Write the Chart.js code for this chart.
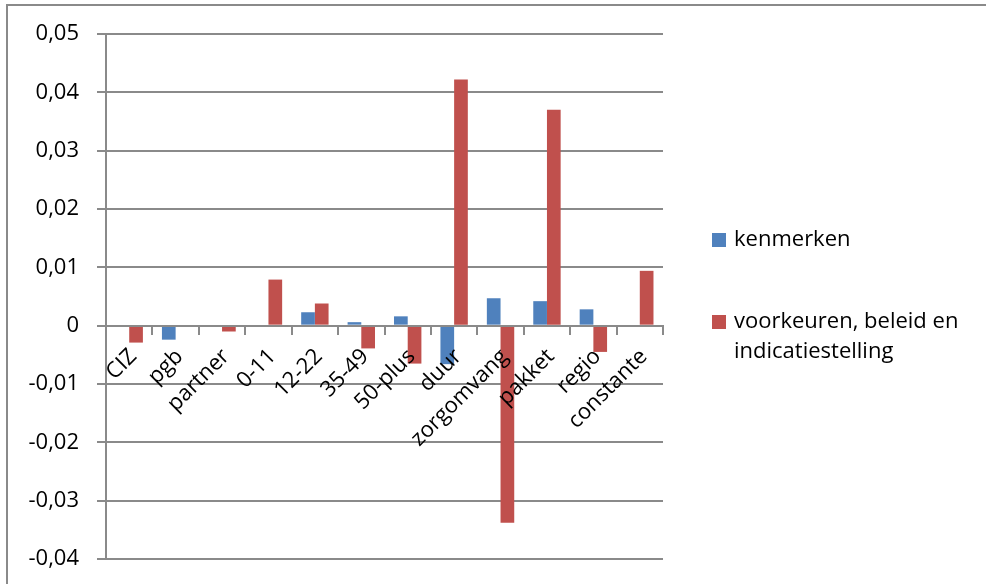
<!DOCTYPE html>
<html>
<head>
<meta charset="utf-8">
<script src="https://cdn.jsdelivr.net/npm/chart.js@4/dist/chart.umd.min.js"></script>
<style>
  html, body { margin: 0; padding: 0; background: #fff; }
  #wrap { position: relative; width: 986px; height: 584px; }
</style>
</head>
<body>
<div id="wrap"><canvas id="c" width="986" height="584"></canvas></div>
<script>
// Categories along the x axis
const categories = ['CIZ', 'pgb', 'partner', '0-11', '12-22', '35-49', '50-plus',
  'duur', 'zorgomvang', 'pakket', 'regio', 'constante'];

// Series names
const seriesNames = ['kenmerken', 'voorkeuren, beleid en indicatiestelling'];

// Series values
const kenmerken = [0, -0.0024, 0, 0, 0.0023, 0.0006, 0.0016,
  -0.0066, 0.0047, 0.0042, 0.0028, 0];
const voorkeuren = [-0.0029, -0.0002, -0.0010, 0.0079, 0.0038, -0.0039, -0.0065,
  0.0422, -0.0338, 0.0370, -0.0045, 0.0094];

// Value axis ticks
const yTicks = [-0.04, -0.03, -0.02, -0.01, 0, 0.01, 0.02, 0.03, 0.04, 0.05];

const FONT = '"Open Sans", "Liberation Sans", sans-serif';
const GRID = '#8a8a8a';

// Outer frame (left and top edge visible)
const framePlugin = {
  id: 'frame',
  beforeDraw(chart) {
    const ctx = chart.ctx;
    ctx.save();
    ctx.strokeStyle = GRID;
    ctx.lineWidth = 2;
    ctx.beginPath();
    ctx.moveTo(7, chart.height);
    ctx.lineTo(7, 5);
    ctx.lineTo(chart.width, 5);
    ctx.stroke();
    ctx.restore();
  }
};

// Legend on the right with wrapped labels
const sideLegend = {
  id: 'sideLegend',
  afterDraw(chart) {
    const ctx = chart.ctx;
    ctx.save();
    ctx.font = '22px ' + FONT;
    ctx.textBaseline = 'middle';
    ctx.fillStyle = '#000';
    const boxX = 712, textX = 734, maxW = 245, lineH = 30;
    const startY = [240, 322];
    chart.data.datasets.forEach((ds, i) => {
      const words = ds.label.split(' ');
      const lines = [];
      let cur = '';
      words.forEach(w => {
        const t = cur ? cur + ' ' + w : w;
        if (ctx.measureText(t).width > maxW && cur) { lines.push(cur); cur = w; }
        else cur = t;
      });
      lines.push(cur);
      const y = startY[i];
      ctx.fillStyle = ds.backgroundColor;
      ctx.fillRect(boxX, y - 7, 14, 14);
      ctx.fillStyle = '#000';
      lines.forEach((ln, k) => ctx.fillText(ln, textX, y + k * lineH));
    });
    ctx.restore();
  }
};

new Chart(document.getElementById('c'), {
  type: 'bar',
  data: {
    labels: categories,
    datasets: [
      { label: seriesNames[0], data: kenmerken, backgroundColor: '#4F81BD' },
      { label: seriesNames[1], data: voorkeuren, backgroundColor: '#C0504D' }
    ]
  },
  plugins: [framePlugin, sideLegend],
  options: {
    responsive: false,
    animation: false,
    events: [],
    layout: { padding: { left: 0, top: 34, right: 323, bottom: 25 } },
    datasets: {
      bar: { barPercentage: 1, categoryPercentage: 0.59 }
    },
    plugins: {
      legend: { display: false },
      tooltip: { enabled: false }
    },
    scales: {
      x: {
        position: { y: 0 },
        offset: true,
        afterFit(scale) {
          scale.height = 0;
          scale.paddingTop = 0; scale.paddingBottom = 0;
        },
        border: { display: true, color: GRID, width: 2, z: 1 },
        grid: {
          offset: true, drawOnChartArea: false, drawTicks: true,
          tickLength: 8, color: GRID, lineWidth: 2, z: 1
        },
        ticks: {
          z: 2,
          autoSkip: false, minRotation: 45, maxRotation: 45,
          padding: 10, labelOffset: 4, color: '#000', font: { family: FONT, size: 22 }
        }
      },
      y: {
        min: -0.04, max: 0.05,
        afterFit(scale) {
          scale.width = 106;
          scale.paddingTop = 0; scale.paddingBottom = 0;
        },
        afterBuildTicks(scale) { scale.ticks = yTicks.map(v => ({ value: v })); },
        border: { display: true, color: GRID, width: 2 },
        grid: { color: GRID, lineWidth: 2, tickLength: 9, drawTicks: true },
        ticks: {
          padding: 18, color: '#000', font: { family: FONT, size: 22 },
          callback: v => v === 0 ? '0' : v.toFixed(2).replace('.', ',')
        }
      }
    }
  }
});
</script>
</body>
</html>
